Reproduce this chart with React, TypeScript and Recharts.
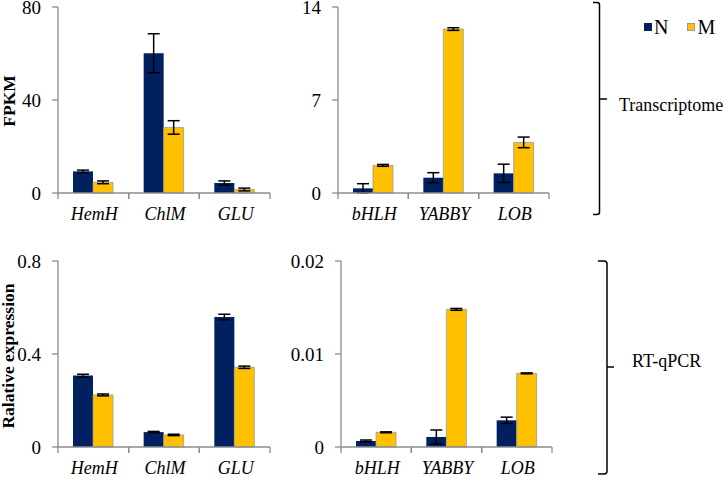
import React from 'react';
import { BarChart, Bar, XAxis, YAxis, ErrorBar, Legend } from 'recharts';

// ---------- data ----------
const genesA = ['HemH', 'ChlM', 'GLU'];
const genesB = ['bHLH', 'YABBY', 'LOB'];

// Transcriptome (FPKM)
const fpkmA_N = [9.3, 60.1, 4.3];
const fpkmA_N_err = [0.55, 8.4, 0.9];
const fpkmA_M = [4.6, 28.2, 1.5];
const fpkmA_M_err = [0.6, 2.9, 0.6];

const fpkmB_N = [0.35, 1.15, 1.48];
const fpkmB_N_err = [0.35, 0.38, 0.69];
const fpkmB_M = [2.08, 12.34, 3.81];
const fpkmB_M_err = [0.07, 0.1, 0.4];

// RT-qPCR (relative expression)
const qA_N = [0.307, 0.064, 0.559];
const qA_N_err = [0.006, 0.003, 0.012];
const qA_M = [0.224, 0.052, 0.343];
const qA_M_err = [0.004, 0.003, 0.005];

const qB_N = [0.00065, 0.00108, 0.00287];
const qB_N_err = [0.0001, 0.00075, 0.00034];
const qB_M = [0.00158, 0.0148, 0.00792];
const qB_M_err = [0.00005, 0.0001, 0.00005];

const ticksFpkmA = [0, 40, 80];
const ticksFpkmB = [0, 7, 14];
const ticksQA = [0, 0.4, 0.8];
const ticksQB = [0, 0.01, 0.02];

const seriesNames = ['N', 'M'];
const groupLabels = ['Transcriptome', 'RT-qPCR'];
const yTitles = ['FPKM', 'Ralative expression'];

// ---------- styles ----------
const FONT = '"Liberation Serif", serif';
const NAVY = '#002060';
const GOLD = '#FFC000';
const AXIS = '#8c8c8c';

const build = (genes: string[], n: number[], ne: number[], m: number[], me: number[]) =>
  genes.map((g, i) => ({ gene: g, N: n[i], nErr: ne[i], M: m[i], mErr: me[i] }));

const CatTick = (props: any) => {
  const { x, y, payload, band } = props;
  return (
    <g>
      <line x1={x - band / 2} y1={y} x2={x - band / 2} y2={y + 6} stroke={AXIS} strokeWidth={1.3} />
      <line x1={x + band / 2} y1={y} x2={x + band / 2} y2={y + 6} stroke={AXIS} strokeWidth={1.3} />
      <text
        x={x + 1}
        y={y + 26.5}
        textAnchor="middle"
        fontFamily="Liberation Serif"
        style={{ fontFamily: FONT, fontStyle: 'italic', fontSize: 18 }}
        fill="#000"
      >
        {payload.value}
      </text>
    </g>
  );
};

const ValTick = (props: any) => {
  const { x, y, payload } = props;
  return (
    <text
      x={x}
      y={y}
      dy={7}
      textAnchor="end"
      fontFamily="Liberation Serif"
      style={{ fontFamily: FONT, fontSize: 19 }}
      fill="#000"
    >
      {String(payload.value)}
    </text>
  );
};

const yTitle = (text: string, bx: number, cy: number) => () => (
  <text
    x={bx}
    y={cy}
    transform={`rotate(-90, ${bx}, ${cy})`}
    textAnchor="middle"
    fontFamily="Liberation Serif"
    style={{ fontFamily: FONT, fontWeight: 'bold', fontSize: 17.5 }}
    fill="#000"
  >
    {text}
  </text>
);

const LegendContent = (props: any) => {
  const payload = [...(props.payload || [])].sort(
    (a: any, b: any) => seriesNames.indexOf(a.value) - seriesNames.indexOf(b.value)
  );
  return (
    <div style={{ display: 'flex', alignItems: 'center', fontFamily: FONT, fontSize: 20, lineHeight: '20px', color: '#000' }}>
      {payload.map((p: any, i: number) => (
        <div key={i} style={{ display: 'flex', alignItems: 'center', marginRight: i === 0 ? 19 : 0 }}>
          <span
            style={{
              display: 'inline-block',
              width: 8,
              height: 8,
              boxSizing: 'border-box',
              background: p.color,
              border: p.value === 'M' ? '1px solid #999' : 'none',
              marginRight: 2,
            }}
          />
          <span style={{ fontFamily: FONT }}>{p.value}</span>
        </div>
      ))}
    </div>
  );
};

type PanelProps = {
  data: any[];
  ticks: number[];
  left: number;
  top: number;
  width: number;
  height: number;
  margin: { top: number; right: number; bottom: number; left: number };
  yWidth: number;
  title?: { text: string; bx: number; cy: number };
  legend?: boolean;
};

const Panel = ({ data, ticks, left, top, width, height, margin, yWidth, title, legend }: PanelProps) => {
  const band = (width - margin.left - margin.right - yWidth) / data.length;
  return (
    <div style={{ position: 'absolute', left, top, width, height }}>
      <BarChart width={width} height={height} data={data} margin={margin} barGap={0} style={{ overflow: 'visible' }}>
        <XAxis
          dataKey="gene"
          axisLine={{ stroke: AXIS, strokeWidth: 1.3 }}
          tickLine={false}
          tickSize={0}
          tickMargin={0}
          interval={0}
          height={30}
          tick={(p: any) => <CatTick {...p} band={band} />}
        />
        <YAxis
          width={yWidth}
          domain={[ticks[0], ticks[ticks.length - 1]]}
          ticks={ticks}
          interval={0}
          axisLine={{ stroke: AXIS, strokeWidth: 1.3 }}
          tickLine={{ stroke: AXIS, strokeWidth: 1.3 }}
          tickSize={6}
          tickMargin={11}
          tick={(p: any) => <ValTick {...p} />}
          label={title ? yTitle(title.text, title.bx, title.cy) : undefined}
        />
        {legend && (
          <Legend
            layout="horizontal"
            verticalAlign="middle"
            align="center"
            content={<LegendContent />}
            wrapperStyle={{ left: 364, top: 17, width: 'auto', height: 20 }}
          />
        )}
        <Bar dataKey="N" name={seriesNames[0]} fill={NAVY} barSize={20} isAnimationActive={false}>
          <ErrorBar dataKey="nErr" width={6} stroke="#000" strokeWidth={1.5} direction="y" />
        </Bar>
        <Bar dataKey="M" name={seriesNames[1]} fill={GOLD} stroke="#9a9a9a" strokeWidth={0.8} barSize={20} isAnimationActive={false}>
          <ErrorBar dataKey="mErr" width={6} stroke="#000" strokeWidth={1.5} direction="y" />
        </Bar>
      </BarChart>
    </div>
  );
};

const Brackets = () => (
  <svg width={724} height={477} style={{ position: 'absolute', left: 0, top: 0, pointerEvents: 'none' }}>
    <g fill="none" stroke="#000" strokeWidth={1.5}>
      <path d="M 593 2.5 L 597 2.5 Q 599.5 2.5 599.5 5 L 599.5 212 Q 599.5 214.5 597 214.5 L 593 214.5" />
      <path d="M 599.5 99 L 607 99" />
      <path d="M 598 261 L 604 261 Q 607 261 607 264 L 607 471 Q 607 474 604 474 L 598 474" />
      <path d="M 607 367 L 614 367" />
    </g>
    <text x={619} y={111} fontFamily="Liberation Serif" style={{ fontFamily: FONT, fontSize: 18 }} fill="#000">{groupLabels[0]}</text>
    <text x={632} y={367} fontFamily="Liberation Serif" style={{ fontFamily: FONT, fontSize: 18 }} fill="#000">{groupLabels[1]}</text>
  </svg>
);

export default function App() {
  const dA = build(genesA, fpkmA_N, fpkmA_N_err, fpkmA_M, fpkmA_M_err);
  const dB = build(genesB, fpkmB_N, fpkmB_N_err, fpkmB_M, fpkmB_M_err);
  const dC = build(genesA, qA_N, qA_N_err, qA_M, qA_M_err);
  const dD = build(genesB, qB_N, qB_N_err, qB_M, qB_M_err);
  return (
    <div style={{ position: 'absolute', left: 0, top: 0, width: 724, height: 477, background: '#fff', overflow: 'hidden', fontFamily: FONT }}>
      <Panel
        data={dA}
        ticks={ticksFpkmA}
        left={0}
        top={0}
        width={280}
        height={230}
        margin={{ top: 7, right: 10, bottom: 7, left: 0 }}
        yWidth={58}
        title={{ text: yTitles[0], bx: 14.5, cy: 101 }}
      />
      <Panel
        data={dB}
        ticks={ticksFpkmB}
        left={280}
        top={0}
        width={444}
        height={230}
        margin={{ top: 7, right: 175, bottom: 7, left: 0 }}
        yWidth={58}
        legend
      />
      <Panel
        data={dC}
        ticks={ticksQA}
        left={0}
        top={250}
        width={280}
        height={227}
        margin={{ top: 11, right: 10, bottom: 0, left: 0 }}
        yWidth={58}
        title={{ text: yTitles[1], bx: 14, cy: 106 }}
      />
      <Panel
        data={dD}
        ticks={ticksQB}
        left={280}
        top={250}
        width={280}
        height={227}
        margin={{ top: 11, right: 8, bottom: 0, left: 0 }}
        yWidth={61}
      />
      <Brackets />
    </div>
  );
}
